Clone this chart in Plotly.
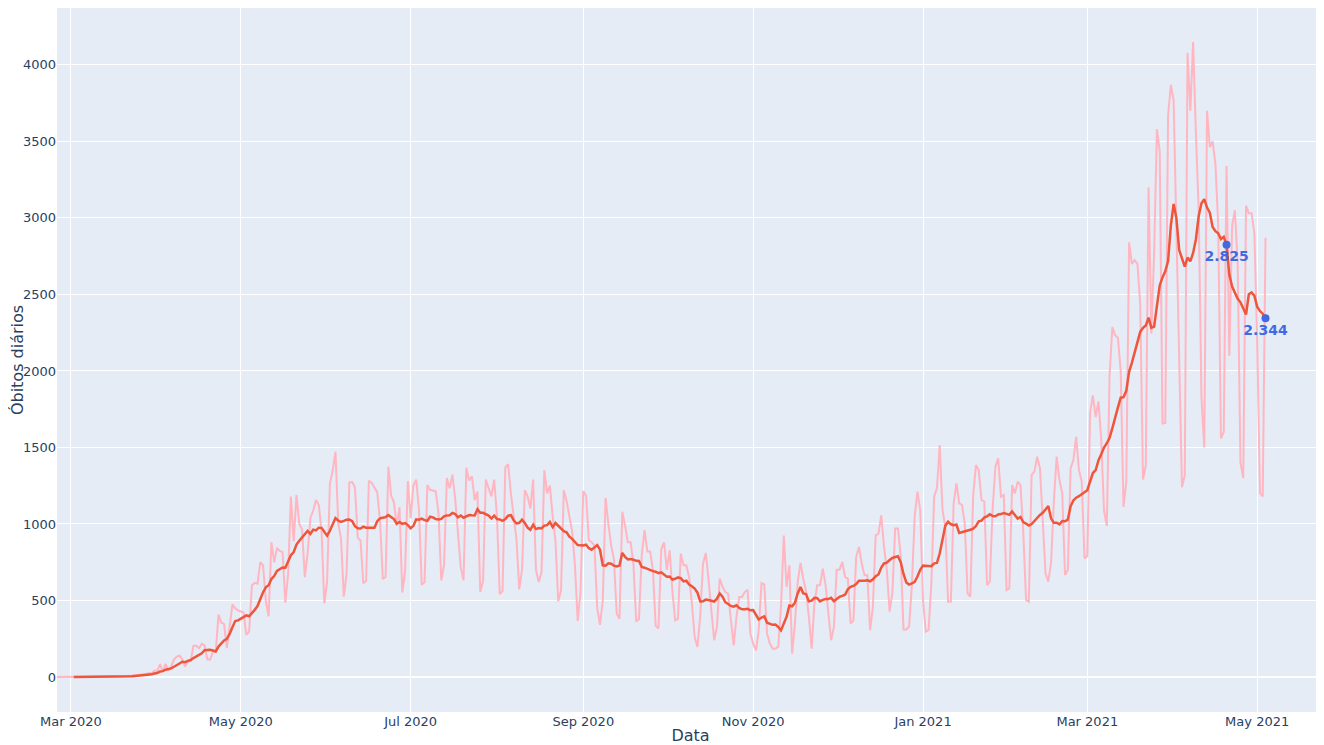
import pandas as pd
import plotly.graph_objects as go

# Óbitos diários (Brasil), a partir de 25/02/2020
inicio = "2020-02-25"

fev_2020 = [0, 0, 0, 0, 0]
mar_2020 = [0, 0, 0, 0, 0, 0, 0, 0, 0, 0, 0, 0, 0, 0, 0, 0,
            1, 3, 3, 4, 7, 7, 9, 12, 13, 18, 15, 19, 25, 23, 42]
abr_2020 = [39, 84, 35, 86, 41, 67, 114, 133, 141, 115, 68, 99, 105, 204, 204,
            188, 217, 206, 115, 113, 166, 165, 407, 357, 346, 189, 338, 474, 449, 435]
mai_2020 = [428, 421, 275, 296, 600, 615, 610, 751, 730, 496, 396, 881, 749, 844, 824,
            816, 485, 674, 1179, 888, 1188, 1001, 965, 653, 807, 1039, 1086, 1156, 1124, 956, 480]
jun_2020 = [623, 1262, 1349, 1473, 1005, 904, 525, 679, 1272, 1274, 1239, 909, 892, 612, 627,
            1282, 1269, 1238, 1206, 1022, 641, 654, 1374, 1185, 1141, 990, 1109, 552, 692, 1280]
jul_2020 = [1038, 1252, 1290, 1091, 602, 620, 1254, 1223, 1220, 1214, 1071, 631, 733, 1300, 1233,
            1322, 1163, 921, 716, 632, 1367, 1284, 1311, 1156, 1211, 555, 627, 1290, 1230, 1180, 1290]
ago_2020 = [1050, 541, 561, 1370, 1390, 1200, 1060, 900, 572, 703, 1220, 1180, 1100, 1290, 700,
            620, 684, 1350, 1200, 1250, 1050, 890, 494, 565, 1220, 1150, 1050, 950, 731, 366, 553]
set_2020 = [1215, 1184, 893, 880, 860, 450, 340, 500, 1170, 1000, 860, 770, 415, 381, 1080,
            990, 880, 880, 739, 363, 377, 800, 960, 820, 820, 700, 335, 317, 836, 880]
out_2020 = [700, 828, 560, 370, 380, 806, 730, 730, 653, 480, 261, 196, 400, 740, 810,
            630, 435, 240, 327, 643, 590, 555, 545, 350, 207, 390, 523, 523, 555, 570, 283]
nov_2020 = [218, 174, 305, 614, 605, 283, 218, 185, 185, 196, 457, 925, 588, 730, 152,
            350, 620, 745, 640, 560, 392, 185, 480, 600, 600, 708, 600, 392, 240, 327]
dez_2020 = [700, 700, 751, 653, 643, 348, 370, 784, 850, 740, 664, 664, 305, 457, 925,
            936, 1056, 850, 700, 427, 550, 970, 970, 786, 310, 310, 330, 600, 1048, 1211, 1091]
jan_2021 = [503, 296, 307, 612, 1178, 1233, 1516, 1091, 982, 492, 492, 1135, 1265, 1135, 1124,
            1004, 547, 525, 1183, 1385, 1352, 1157, 1146, 601, 623, 1100, 1374, 1429, 1178, 1189, 568]
fev_2021 = [579, 1254, 1200, 1276, 1254, 950, 503, 492, 1320, 1342, 1440, 1363, 1050, 677,
            623, 750, 1156, 1440, 1287, 1200, 666, 699, 1363, 1418, 1570, 1352, 1276, 775]
mar_2021 = [790, 1726, 1840, 1699, 1800, 1555, 1086, 987, 1972, 2286, 2233, 2216, 1997, 1111, 1275,
            2841, 2700, 2724, 2700, 2438, 1290, 1383, 3200, 2244, 2777, 3580, 3438, 1656, 1660, 3668, 3869]
abr_2021 = [3769, 2922, 1987, 1240, 1319, 4080, 3700, 4150, 3550, 3050, 1824, 1500, 3700, 3463, 3500,
            3355, 2957, 1560, 1600, 3340, 2100, 2950, 3050, 2700, 1400, 1300, 3080, 3030, 3030, 2900]
mai_2021 = [2200, 1200, 1180, 2870]

meses = [fev_2020, mar_2020, abr_2020, mai_2020, jun_2020, jul_2020, ago_2020, set_2020,
         out_2020, nov_2020, dez_2020, jan_2021, fev_2021, mar_2021, abr_2021, mai_2021]
obitos = [v for mes in meses for v in mes]

datas = pd.date_range(inicio, periods=len(obitos), freq="D")
serie = pd.Series(obitos, index=datas)
media_movel = serie.rolling(7).mean()

datas_destaque = pd.to_datetime(["2021-04-20", "2021-05-04"])
valores_destaque = media_movel.loc[datas_destaque]
textos_destaque = [f"{round(v):,}".replace(",", ".") for v in valores_destaque]

fig = go.Figure()
fig.add_trace(go.Scatter(x=datas, y=serie, mode="lines",
                         line=dict(color="lightpink", width=2), name="Óbitos"))
fig.add_trace(go.Scatter(x=datas, y=media_movel, mode="lines",
                         line=dict(color="#EF553B", width=2.5), name="Média móvel"))
fig.add_trace(go.Scatter(x=datas_destaque, y=valores_destaque, mode="markers+text",
                         marker=dict(color="royalblue", size=8),
                         text=textos_destaque, textposition="bottom center",
                         textfont=dict(color="royalblue", size=14, family="DejaVu Sans", weight="bold"),
                         name="Destaque"))

fig.update_layout(
    template="plotly",
    width=1316, height=737,
    margin=dict(l=49, r=0, t=0, b=33),
    showlegend=False,
    font=dict(family="DejaVu Sans", size=13),
    xaxis=dict(title=dict(text="Data"), range=["2020-02-25", "2021-05-25"],
               dtick="M2", tick0="2020-03-01", tickformat="%b %Y", automargin=False),
    yaxis=dict(title=dict(text="Óbitos diários"), range=[-229, 4372], dtick=500,
               automargin=False),
)

fig.write_html("out.html")
